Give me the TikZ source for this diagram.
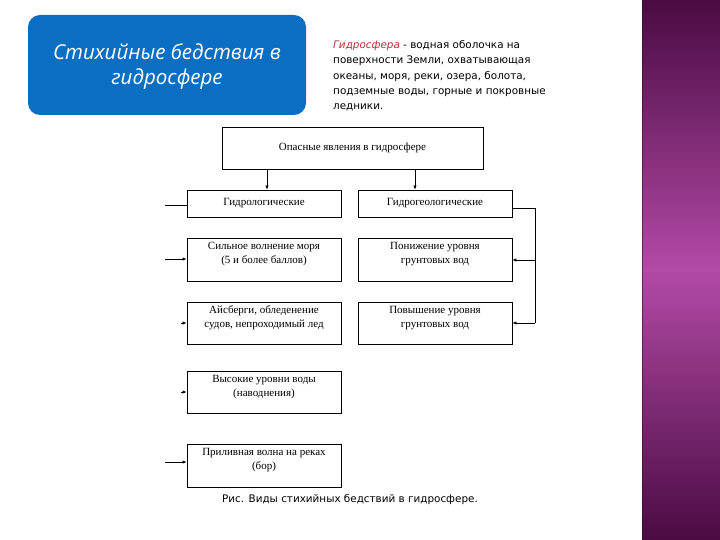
\documentclass[tikz,border=0pt]{standalone}
\usepackage{fontspec}
\setmainfont{Liberation Serif}
\newfontfamily\parafont{DejaVu Sans}
\newfontfamily\titlefont{Open Sans}
\usetikzlibrary{arrows.meta}
\definecolor{blueBox}{HTML}{0A6FC2}
\definecolor{darkPurple}{HTML}{4A0B42}
\definecolor{midPurple}{HTML}{B24AA6}
\definecolor{redWord}{HTML}{B8303A}
\tikzset{
  box/.style={draw=black, line width=0.8pt, inner sep=0pt, minimum width=154pt},
  boxfont/.style={font=\fontsize{11}{14}\selectfont},
  lbl/.style={anchor=north, align=center, font=\fontsize{11}{14}\selectfont, inner sep=0pt, yshift=-4pt},
  conn/.style={line width=0.8pt, black},
  arr/.style={conn, -{Latex[length=4pt,width=3.5pt]}},
}
\begin{document}
\begin{tikzpicture}[x=1pt,y=-1pt]
\useasboundingbox (0,0) rectangle (720,540);
\fill[white] (0,0) rectangle (720,540);
% purple side bar
\shade[top color=darkPurple, bottom color=darkPurple, middle color=midPurple] (642,0) rectangle (720,540);
\fill[darkPurple!70!black, opacity=0.6] (641.5,0) rectangle (643,540);
% title box
\node[fill=blueBox, rounded corners=12pt, minimum width=278pt, minimum height=100pt, inner sep=0pt] (title) at (167,65) {};
\node[text=white, align=center, inner sep=0pt, font=\titlefont\itshape\fontsize{20.5}{25}\selectfont] (titletext) at (167,67)
      {Стихийные бедствия в\\гидросфере};
% paragraph
\node[anchor=north west, align=left, inner sep=0pt, font=\parafont\fontsize{10.4}{15.4}\selectfont] (para) at (333,40)
  {\textcolor{redWord}{\itshape Гидросфера} - водная оболочка на\\
   поверхности Земли, охватывающая\\
   океаны, моря, реки, озера, болота,\\
   подземные воды, горные и покровные\\
   ледники.};
% diagram
\node[box, boxfont, minimum width=261pt, minimum height=42pt] (top) at (352.5,148) {Опасные явления в гидросфере};
\node[box, boxfont, minimum height=27pt] (l1) at (264,203.5) {Гидрологические};
\node[box, boxfont, minimum height=27pt] (r1) at (435,203.5) {Гидрогеологические};
\node[box, minimum height=43pt, label={[lbl]north:{Сильное волнение моря\\(5 и более баллов)}}] (l2) at (264,259.5) {};
\node[box, minimum height=43pt, label={[lbl]north:{Понижение уровня\\грунтовых вод}}] (r2) at (435,259.5) {};
\node[box, minimum height=42pt, label={[lbl]north:{Айсберги, обледенение\\судов, непроходимый лед}}] (l3) at (264,323) {};
\node[box, minimum height=42pt, label={[lbl]north:{Повышение уровня\\грунтовых вод}}] (r3) at (435,323) {};
\node[box, minimum height=42pt, label={[lbl]north:{Высокие уровни воды\\(наводнения)}}] (l4) at (264,392) {};
\node[box, minimum height=43pt, label={[lbl]north:{Приливная волна на реках\\(бор)}}] (l5) at (264,465.5) {};
% caption
\node[font=\parafont\fontsize{10.4}{12}\selectfont, inner sep=0pt] (cap) at (350,500) {Рис. Виды стихийных бедствий в гидросфере.};
% connectors from top
\draw[arr] (top.south -| 267,0) -- (l1.north -| 267,0);
\draw[arr] (top.south -| 415,0) -- (r1.north -| 415,0);
% left stubs
\coordinate (s1) at (165,205);
\coordinate (s2) at (165,259);
\coordinate (s3) at (181,323);
\coordinate (s4) at (181,392);
\coordinate (s5) at (165,462);
\draw[conn] (s1) -- (s1 -| l1.west);
\draw[arr] (s2) -- (s2 -| l2.west);
\draw[arr] (s3) -- (s3 -| l3.west);
\draw[arr] (s4) -- (s4 -| l4.west);
\draw[arr] (s5) -- (s5 -| l5.west);
% right bus
\coordinate (bt) at (535,208);
\coordinate (bm) at (535,260);
\coordinate (bb) at (535,323);
\draw[conn] (bt -| r1.east) -- (bt) -- (bb);
\draw[arr] (bm) -- (bm -| r2.east);
\draw[arr] (bb) -- (bb -| r3.east);
\end{tikzpicture}
\end{document}
